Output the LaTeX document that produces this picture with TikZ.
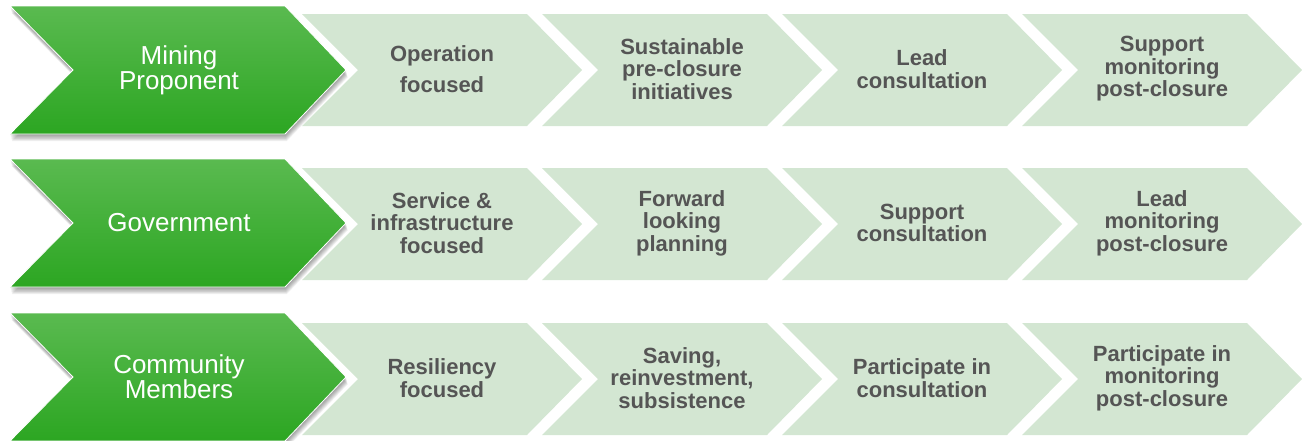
\documentclass[tikz,border=0pt]{standalone}
\usepackage{fontspec}
\setmainfont{Liberation Sans}
\definecolor{lightg}{RGB}{211,230,210}
\definecolor{txtg}{RGB}{85,85,85}
\definecolor{gtop}{RGB}{90,186,80}
\definecolor{gbot}{RGB}{44,166,34}
\tikzset{
  lt/.style={text=txtg, align=center, inner sep=0pt, font=\fontsize{22}{22.5}\selectfont\bfseries},
  gt/.style={text=white, align=center, inner sep=0pt, font=\fontsize{26}{25}\selectfont},
  lightchev/.style={fill=lightg},
  greenchev/.style={top color=gtop, bottom color=gbot, draw=white, line width=0.8pt},
  shadowchev/.style={fill=black, opacity=0.05}
}
\newcommand{\lchev}[2]{(#1,#2-56) -- (#1+225,#2-56) -- (#1+280,#2) -- (#1+225,#2+56) -- (#1,#2+56) -- (#1+56,#2) -- cycle}
\newcommand{\gchev}[1]{(10,#1-64) -- (285,#1-64) -- (346,#1) -- (285,#1+64) -- (10,#1+64) -- (73,#1) -- cycle}
\begin{document}
\begin{tikzpicture}[x=1pt,y=-1pt]
\useasboundingbox (0,0) rectangle (1302,440);
\clip (0,0) rectangle (1302,440);
% light chevrons
\foreach \c in {70,224,379}{
  \foreach \k in {0,...,3}{
    \pgfmathsetmacro\X{302+240*\k}
    \path[lightchev] \lchev{\X}{\c};
  }
}
% green chevrons with shadow
\foreach \c in {70,223,377}{
  \foreach \s in {1,...,9}{
    \path[shadowchev, shift={(0.2*\s,0.8*\s)}] \gchev{\c};
  }
  \shade[greenchev] \gchev{\c};
}
% green labels
\node[gt] (g1) at (179,70) {Mining\\Proponent};
\node[gt] (g2) at (179,223) {Government};
\node[gt] (g3) at (179,377) {Community\\Members};
% row 1
\node[lt] (a1) at (442,69) {Operation\\[9pt]focused};
\node[lt] (a2) at (682,69) {Sustainable\\pre-closure\\initiatives};
\node[lt] (a3) at (922,69) {Lead\\consultation};
\node[lt] (a4) at (1162,69) {Support\\monitoring\\post-closure};
% row 2
\node[lt] (b1) at (442,223) {Service \&\\infrastructure\\focused};
\node[lt] (b2) at (682,223) {Forward\\looking\\planning};
\node[lt] (b3) at (922,223) {Support\\consultation};
\node[lt] (b4) at (1162,223) {Lead\\monitoring\\post-closure};
% row 3
\node[lt] (c1) at (442,378) {Resiliency\\focused};
\node[lt] (c2) at (682,378) {Saving,\\reinvestment,\\subsistence};
\node[lt] (c3) at (922,378) {Participate in\\consultation};
\node[lt] (c4) at (1162,378) {Participate in\\monitoring\\post-closure};
\end{tikzpicture}
\end{document}
